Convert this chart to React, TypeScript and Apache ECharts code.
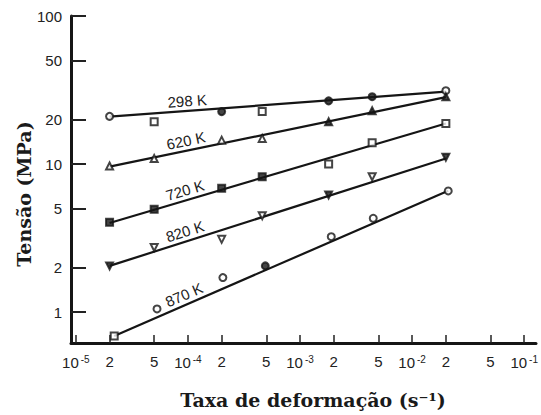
import React, { useEffect, useRef } from "react";
import * as echarts from "echarts";

// ---------- data ----------
const rateTicks = [1e-5, 2e-5, 5e-5, 1e-4, 2e-4, 5e-4, 1e-3, 2e-3, 5e-3, 1e-2, 2e-2, 5e-2, 1e-1];
const rateTickLabels = ["10^-5", "2", "5", "10^-4", "2", "5", "10^-3", "2", "5", "10^-2", "2", "5", "10^-1"];
const stressTicks = [1, 2, 5, 10, 20, 50, 100];
const stressTickLabels = ["1", "2", "5", "10", "20", "50", "100"];

const temperatures = ["298 K", "620 K", "720 K", "820 K", "870 K"];

const rates = [2e-5, 5e-5, 2e-4, 4.6e-4, 1.8e-3, 4.4e-3, 2e-2];
const rates870 = [2.2e-5, 5.3e-5, 2.05e-4, 4.9e-4, 1.9e-3, 4.5e-3, 2.1e-2];

const stress298 = [21.0, 19.3, 22.6, 22.6, 26.7, 28.5, 31.3];
const stress620 = [9.7, 10.9, 14.5, 14.9, 19.3, 22.9, 28.5];
const stress720 = [4.04, 4.94, 6.85, 8.2, 10.0, 13.9, 18.8];
const stress820 = [2.05, 2.73, 3.1, 4.48, 6.18, 8.2, 11.1];
const stress870 = [0.69, 1.05, 1.71, 2.05, 3.23, 4.3, 6.58];

// fitted lines: [start, end] stress at first/last rate
const fit298 = [20.9, 30.8];
const fit620 = [9.6, 28.3];
const fit720 = [4.0, 18.8];
const fit820 = [2.05, 10.9];
const fit870 = [0.69, 6.6];

const labelRate = 1e-4;

// ---------- styles ----------
const markers298 = ["emptyCircle", "emptyRect", "circle", "emptyRect", "circle", "circle", "emptyCircle"];
const markers620 = ["emptyTriangle", "emptyTriangle", "emptyTriangle", "emptyTriangle", "triangle", "triangle", "triangle"];
const markers720 = ["rect", "rect", "rect", "rect", "emptyRect", "emptyRect", "emptyRect"];
const markers820 = ["triangle", "emptyTriangle", "emptyTriangle", "emptyTriangle", "triangle", "emptyTriangle", "triangle"];
const markers870 = ["emptyRect", "emptyCircle", "emptyCircle", "circle", "emptyCircle", "emptyCircle", "emptyCircle"];

const INK = "#151515";
const SANS = "'Liberation Sans', Arial, Helvetica, sans-serif";
const SERIF = "'DejaVu Serif', 'Liberation Serif', serif";

const lg = (v: number) => Math.log10(v);

const seriesDefs = [
  { rates, stress: stress298, fit: fit298, markers: markers298, rot: 0 },
  { rates, stress: stress620, fit: fit620, markers: markers620, rot: 0 },
  { rates, stress: stress720, fit: fit720, markers: markers720, rot: 0 },
  { rates, stress: stress820, fit: fit820, markers: markers820, rot: 180 },
  { rates: rates870, stress: stress870, fit: fit870, markers: markers870, rot: 0 },
];

export default function App() {
  const ref = useRef<HTMLDivElement>(null);

  useEffect(() => {
    const chart = echarts.init(ref.current!, null, { renderer: "svg" });

    const findLabel = (ticks: number[], labels: string[], v: number) => {
      for (let i = 0; i < ticks.length; i++) {
        if (Math.abs(lg(ticks[i]) - v) < 1e-6) return labels[i];
      }
      return "";
    };

    const series: any[] = [];
    seriesDefs.forEach((s, i) => {
      const r0 = s.rates[0];
      const r1 = s.rates[s.rates.length - 1];
      series.push({
        type: "line",
        name: temperatures[i] + " fit",
        data: [
          [lg(r0), lg(s.fit[0])],
          [lg(r1), lg(s.fit[1])],
        ],
        symbol: "none",
        lineStyle: { color: INK, width: 2.2 },
        z: 2,
      });
      series.push({
        type: "scatter",
        name: temperatures[i],
        symbolSize: 7,
        symbolRotate: s.rot,
        itemStyle: { color: INK, borderColor: INK, borderWidth: 2 },
        data: s.rates.map((r, j) => ({
          value: [lg(r), lg(s.stress[j])],
          symbol: s.markers[j],
        })),
        z: 3,
      });
    });

    const option: any = {
      animation: false,
      backgroundColor: "#ffffff",
      grid: { left: 71, right: 0, top: 16, bottom: 72, containLabel: false },
      xAxis: {
        type: "value",
        min: -5.043,
        max: -0.895,
        axisLine: { show: true, onZero: false, lineStyle: { color: INK, width: 3 } },
        axisTick: {
          show: true,
          inside: true,
          length: 8,
          customValues: rateTicks.map(lg),
          lineStyle: { color: "#222", width: 1.5 },
        },
        axisLabel: {
          show: true,
          margin: 11,
          customValues: rateTicks.map(lg),
          color: "#222",
          fontSize: 15,
          fontFamily: SANS,
          formatter: (v: number) => {
            const l = findLabel(rateTicks, rateTickLabels, v);
            if (l.includes("^")) {
              const [b, e] = l.split("^");
              return `{n|${b}}{e|${e}}`;
            }
            return l;
          },
          rich: {
            n: { fontSize: 15, fontFamily: SANS, color: "#222", lineHeight: 17 },
            e: { fontSize: 10, fontFamily: SANS, color: "#222", lineHeight: 11, verticalAlign: "top", padding: [0, 0, 0, 2] },
          },
        },
        splitLine: { show: false },
      },
      yAxis: {
        type: "value",
        min: -0.209,
        max: 2,
        axisLine: { show: true, onZero: false, lineStyle: { color: INK, width: 3 } },
        axisTick: {
          show: true,
          inside: true,
          length: 15,
          customValues: stressTicks.map(lg),
          lineStyle: { color: "#222", width: 2 },
        },
        axisLabel: {
          show: true,
          margin: 9,
          customValues: stressTicks.map(lg),
          color: "#222",
          fontSize: 15,
          fontFamily: SANS,
          formatter: (v: number) => findLabel(stressTicks, stressTickLabels, v),
        },
        splitLine: { show: false },
      },
      series,
      graphic: [
        {
          type: "text",
          id: "xtitle",
          x: 313,
          y: 400,
          style: {
            text: "Taxa de deformação (s⁻¹)",
            font: `bold 19px ${SERIF}`,
            fill: "#1a1a1a",
            textAlign: "center",
            textVerticalAlign: "middle",
            align: "center",
            verticalAlign: "middle",
          },
        },
        {
          type: "text",
          id: "ytitle",
          x: 24,
          y: 194,
          rotation: Math.PI / 2,
          style: {
            text: "Tensão (MPa)",
            font: `bold 19px ${SERIF}`,
            fill: "#1a1a1a",
            textAlign: "center",
            textVerticalAlign: "middle",
            align: "center",
            verticalAlign: "middle",
          },
        },
      ],
    };

    chart.setOption(option);

    // temperature labels along each fitted line
    const labels = seriesDefs.map((s, i) => {
      const r0 = s.rates[0];
      const r1 = s.rates[s.rates.length - 1];
      const p0 = chart.convertToPixel({ gridIndex: 0 }, [lg(r0), lg(s.fit[0])]) as number[];
      const p1 = chart.convertToPixel({ gridIndex: 0 }, [lg(r1), lg(s.fit[1])]) as number[];
      const theta = Math.atan2(p0[1] - p1[1], p1[0] - p0[0]);
      const t = (lg(labelRate) - lg(r0)) / (lg(r1) - lg(r0));
      const ax = p0[0] + t * (p1[0] - p0[0]);
      const ay = p0[1] + t * (p1[1] - p0[1]);
      const d = 10;
      return {
        type: "text",
        id: "tlabel" + i,
        x: ax - d * Math.sin(theta),
        y: ay - d * Math.cos(theta),
        rotation: theta,
        style: {
          text: temperatures[i],
          font: `15px ${SANS}`,
          fill: "#222",
          textAlign: "center",
          textVerticalAlign: "middle",
          align: "center",
          verticalAlign: "middle",
        },
      };
    });
    chart.setOption({ graphic: [...option.graphic, ...labels] });

    return () => chart.dispose();
  }, []);

  return (
    <div
      ref={ref}
      style={{ position: "fixed", left: 0, top: 0, width: 541, height: 415, background: "#fff" }}
    />
  );
}
